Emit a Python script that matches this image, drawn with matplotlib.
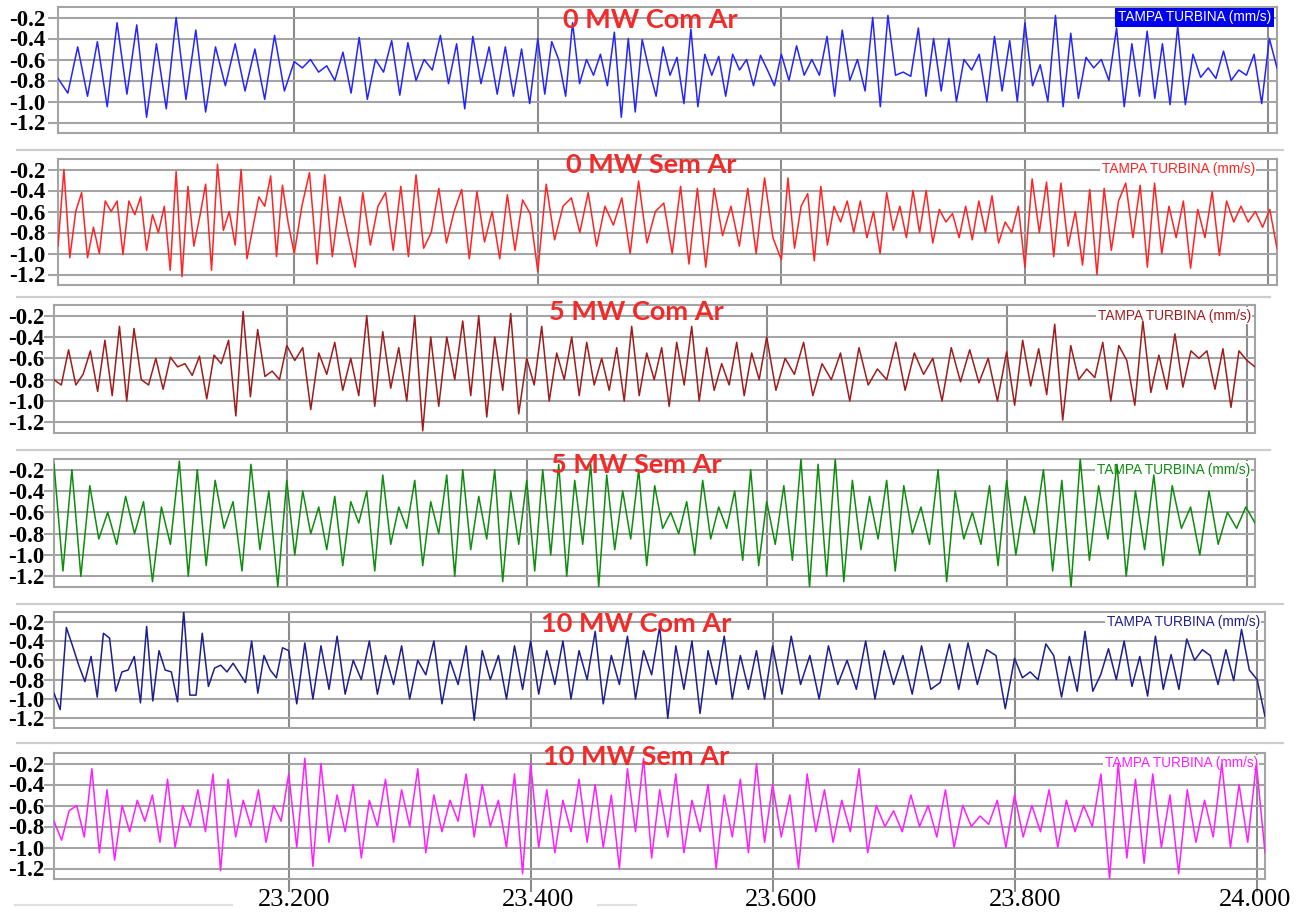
import numpy as np
import matplotlib
matplotlib.use("Agg")
import matplotlib.pyplot as plt
from matplotlib.transforms import blended_transform_factory

# ------------------------------------------------------------------ data
titles = ["0 MW Com Ar", "0 MW Sem Ar", "5 MW Com Ar", "5 MW Sem Ar",
          "10 MW Com Ar", "10 MW Sem Ar"]
channel_label = "TAMPA TURBINA (mm/s)"
y_ticks = [-0.2, -0.4, -0.6, -0.8, -1.0, -1.2]
y_tick_labels = ["-0.2", "-0.4", "-0.6", "-0.8", "-1.0", "-1.2"]
x_ticks = [23.2, 23.4, 23.6, 23.8, 24.0]
x_tick_labels = ["23.200", "23.400", "23.600", "23.800", "24.000"]
# time segments between grid lines (s); each signal list below holds one
# sub-list of read-off peak/trough values per segment
segment_bounds = [23.006, 23.2, 23.4, 23.6, 23.8, 24.007]

sig_0mw_com = [
    [-0.78, -0.92, -0.48, -0.95, -0.43, -1.05, -0.25, -0.93, -0.27, -1.15, -0.45, -1.07,
     -0.2, -0.98, -0.32, -1.1, -0.48, -0.85, -0.45, -0.9, -0.5, -0.98, -0.37, -0.9],
    [-0.62, -0.68, -0.6, -0.72, -0.66, -0.8, -0.53, -0.92, -0.39, -0.98, -0.6, -0.72,
     -0.42, -0.94, -0.44, -0.8, -0.6, -0.7, -0.37, -0.83, -0.45, -1.07, -0.38, -0.83,
     -0.48, -0.93, -0.48, -0.95, -0.5, -1.02],
    [-0.4, -0.93, -0.43, -0.6, -0.95, -0.25, -0.83, -0.6, -0.75, -0.55, -0.85, -0.34,
     -1.15, -0.4, -1.1, -0.41, -0.7, -0.95, -0.48, -0.75, -0.58, -1.02, -0.31, -1.05,
     -0.55, -0.75, -0.57, -0.95, -0.55, -0.7, -0.6, -0.85, -0.56, -0.7, -0.85],
    [-0.55, -0.8, -0.47, -0.75, -0.6, -0.75, -0.38, -0.95, -0.32, -0.8, -0.6, -0.9,
     -0.2, -1.05, -0.18, -0.75, -0.72, -0.76, -0.3, -0.95, -0.4, -0.9, -0.4, -1.0,
     -0.6, -0.7, -0.55, -1.0, -0.38, -0.9, -0.42, -1.0],
    [-0.25, -0.85, -0.65, -1.0, -0.18, -1.05, -0.35, -0.97, -0.58, -0.68, -0.6, -0.8,
     -0.3, -1.05, -0.45, -0.95, -0.33, -0.97, -0.45, -1.03, -0.28, -1.03, -0.55, -0.77,
     -0.68, -0.78, -0.52, -0.8, -0.7, -0.75, -0.55, -1.02, -0.4, -0.68],
]

sig_0mw_sem = [
    [-0.93, -0.2, -1.04, -0.6, -0.42, -1.04, -0.75, -1.0, -0.5, -0.6, -0.5, -1.01,
     -0.5, -0.63, -0.46, -0.97, -0.63, -0.8, -0.55, -1.16, -0.22, -1.22, -0.36, -0.93,
     -0.65, -0.34, -1.16, -0.15, -0.78, -0.6, -0.92, -0.2, -1.05, -0.75, -0.46, -0.55,
     -0.26, -1.03, -0.35, -0.72],
    [-1.0, -0.55, -0.23, -1.1, -0.25, -1.03, -0.46, -0.8, -1.13, -0.42, -0.92, -0.55,
     -0.42, -0.97, -0.36, -1.03, -0.25, -0.95, -0.8, -0.38, -0.9, -0.6, -0.39, -1.05,
     -0.41, -0.89, -0.6, -1.05, -0.44, -0.97, -0.49, -0.62],
    [-1.17, -0.34, -0.87, -0.55, -0.47, -0.8, -0.42, -0.93, -0.55, -0.73, -0.47, -1.0,
     -0.31, -0.9, -0.6, -0.52, -1.0, -0.36, -1.1, -0.38, -1.13, -0.38, -0.83, -0.55,
     -0.93, -0.38, -1.0, -0.28, -0.85],
    [-1.06, -0.28, -0.95, -0.55, -0.43, -1.07, -0.36, -0.92, -0.55, -0.7, -0.5, -0.8,
     -0.5, -0.85, -0.6, -1.0, -0.42, -0.78, -0.55, -0.85, -0.4, -0.8, -0.4, -0.9,
     -0.58, -0.7, -0.62, -0.85, -0.55, -0.87, -0.5, -0.8, -0.45, -0.9, -0.7, -0.8, -0.55],
    [-1.13, -0.29, -0.8, -0.32, -1.03, -0.33, -0.93, -0.6, -1.11, -0.39, -1.2, -0.38,
     -0.97, -0.5, -0.33, -0.85, -0.35, -1.13, -0.33, -1.0, -0.55, -0.85, -0.5, -1.14,
     -0.58, -0.85, -0.41, -1.02, -0.5, -0.7, -0.55, -0.7, -0.6, -0.75, -0.58, -0.95],
]

sig_5mw_com = [
    [-0.8, -0.85, -0.52, -0.85, -0.75, -0.53, -0.91, -0.43, -0.95, -0.3, -1.0, -0.32,
     -0.8, -0.85, -0.6, -0.89, -0.59, -0.68, -0.65, -0.76, -0.58, -0.98, -0.57, -0.65,
     -0.43, -1.14, -0.16, -0.96, -0.33, -0.77, -0.72, -0.8],
    [-0.48, -0.62, -0.5, -1.08, -0.55, -0.75, -0.45, -0.9, -0.6, -0.95, -0.2, -1.05,
     -0.35, -0.88, -0.5, -1.0, -0.2, -1.28, -0.4, -1.05, -0.4, -0.8, -0.25, -0.95,
     -0.2, -1.15, -0.4, -0.9, -0.18, -1.12],
    [-0.6, -0.85, -0.3, -1.0, -0.55, -0.8, -0.4, -0.95, -0.45, -0.85, -0.6, -0.9,
     -0.5, -1.0, -0.3, -0.95, -0.55, -0.8, -0.5, -1.05, -0.45, -0.85, -0.3, -1.0,
     -0.5, -0.9, -0.65, -0.85, -0.45, -0.95, -0.55, -0.8],
    [-0.4, -0.9, -0.6, -0.75, -0.45, -0.95, -0.65, -0.8, -0.55, -1.0, -0.5, -0.85,
     -0.7, -0.8, -0.45, -0.9, -0.55, -0.75, -0.6, -1.0, -0.5, -0.82, -0.52, -0.83,
     -0.6, -1.0],
    [-0.54, -1.04, -0.43, -0.86, -0.51, -0.94, -0.28, -1.18, -0.48, -0.8, -0.7, -0.78,
     -0.45, -1.0, -0.48, -0.62, -1.04, -0.25, -0.92, -0.57, -0.89, -0.37, -0.87, -0.53,
     -0.6, -0.53, -0.89, -0.51, -1.06, -0.53, -0.62, -0.68],
]

sig_5mw_sem = [
    [-0.15, -1.15, -0.2, -1.2, -0.35, -0.85, -0.6, -0.9, -0.45, -0.8, -0.5, -1.25,
     -0.55, -0.9, -0.12, -1.2, -0.2, -1.1, -0.3, -0.75, -0.5, -1.15, -0.15, -0.95,
     -0.4, -1.3],
    [-0.3, -1.0, -0.4, -0.8, -0.55, -0.95, -0.45, -1.1, -0.5, -0.7, -0.4, -1.15,
     -0.25, -0.9, -0.55, -0.75, -0.3, -1.1, -0.5, -0.8, -0.25, -1.2, -0.2, -0.95,
     -0.45, -0.85, -0.2, -1.25, -0.4, -0.9],
    [-0.3, -1.15, -0.2, -1.0, -0.15, -1.2, -0.3, -0.9, -0.15, -1.3, -0.25, -0.95,
     -0.4, -0.85, -0.2, -1.1, -0.35, -0.75, -0.6, -0.8, -0.5, -1.0, -0.3, -0.85,
     -0.55, -0.75, -0.4, -1.05, -0.2, -1.1],
    [-0.5, -0.9, -0.35, -1.05, -0.1, -1.3, -0.15, -1.2, -0.1, -1.25, -0.3, -0.95,
     -0.45, -0.85, -0.3, -1.15, -0.35, -0.8, -0.55, -0.9, -0.2, -1.25, -0.4, -0.85,
     -0.6, -0.9, -0.35, -1.1],
    [-0.3, -1.0, -0.45, -0.8, -0.2, -1.15, -0.3, -1.3, -0.1, -1.05, -0.35, -0.85,
     -0.15, -1.2, -0.4, -0.95, -0.25, -1.1, -0.35, -0.75, -0.55, -1.0, -0.4, -0.9,
     -0.6, -0.75, -0.55, -0.7],
]

sig_10mw_com = [
    [-0.94, -1.11, -0.26, -0.45, -0.65, -0.82, -0.56, -0.98, -0.32, -0.37, -0.92, -0.72,
     -0.7, -0.56, -1.04, -0.25, -1.02, -0.5, -0.7, -0.72, -1.03, -0.09, -0.96, -0.96,
     -0.32, -0.87, -0.68, -0.65, -0.72, -0.63, -0.73, -0.83, -0.4, -0.94, -0.55, -0.7,
     -0.78, -0.47],
    [-0.5, -1.05, -0.42, -1.0, -0.45, -0.9, -0.35, -0.95, -0.6, -0.8, -0.4, -0.95,
     -0.55, -0.85, -0.45, -1.0, -0.6, -0.75, -0.4, -1.05, -0.6, -0.85, -0.45, -1.22,
     -0.5, -0.8, -0.55, -1.0, -0.45, -0.9],
    [-0.4, -0.95, -0.5, -0.85, -0.4, -1.0, -0.5, -0.8, -0.3, -1.05, -0.55, -0.85,
     -0.35, -1.0, -0.5, -0.75, -0.25, -1.2, -0.45, -0.9, -0.4, -1.15, -0.5, -0.85,
     -0.35, -1.0, -0.55, -0.9, -0.5, -1.0],
    [-0.45, -0.95, -0.35, -0.85, -0.55, -1.0, -0.45, -0.85, -0.6, -0.9, -0.4, -1.0,
     -0.5, -0.85, -0.55, -0.95, -0.45, -0.9, -0.83, -0.43, -0.9, -0.42, -0.85, -0.49,
     -0.55, -1.1],
    [-0.58, -0.78, -0.72, -0.8, -0.43, -0.55, -0.98, -0.56, -0.92, -0.3, -0.92, -0.75,
     -0.48, -0.8, -0.4, -0.87, -0.56, -0.97, -0.35, -0.9, -0.54, -0.9, -0.38, -0.6,
     -0.49, -0.55, -0.85, -0.49, -0.81, -0.28, -0.7, -0.8, -1.18],
]

sig_10mw_sem = [
    [-0.75, -0.93, -0.65, -0.6, -0.9, -0.25, -1.05, -0.45, -1.12, -0.6, -0.85, -0.55,
     -0.75, -0.5, -0.95, -0.35, -1.0, -0.6, -0.8, -0.45, -0.85, -0.3, -1.22, -0.35,
     -0.9, -0.55, -0.8, -0.45, -0.95, -0.6, -0.75],
    [-0.3, -1.0, -0.15, -1.18, -0.2, -0.95, -0.5, -0.85, -0.4, -1.1, -0.55, -0.8,
     -0.35, -0.95, -0.45, -0.8, -0.25, -1.05, -0.5, -0.85, -0.55, -0.75, -0.3, -0.9,
     -0.4, -0.8, -0.55, -1.0, -0.3, -1.25],
    [-0.2, -1.0, -0.45, -1.05, -0.55, -0.85, -0.35, -0.95, -0.4, -1.0, -0.5, -1.2,
     -0.25, -0.85, -0.15, -1.1, -0.45, -0.9, -0.3, -1.05, -0.55, -0.85, -0.4, -1.2,
     -0.5, -0.9, -0.35, -1.05, -0.2, -0.95],
    [-0.4, -0.9, -0.5, -1.2, -0.3, -0.85, -0.45, -0.95, -0.55, -0.85, -0.25, -1.05,
     -0.6, -0.8, -0.65, -0.85, -0.5, -0.8, -0.6, -0.9, -0.45, -1.0, -0.6, -0.8,
     -0.7, -0.78, -0.55, -1.0],
    [-0.5, -0.9, -0.6, -0.85, -0.45, -1.0, -0.55, -0.85, -0.6, -0.8, -0.3, -1.3,
     -0.2, -1.1, -0.35, -1.15, -0.3, -1.0, -0.5, -1.25, -0.45, -0.95, -0.55, -0.9,
     -0.2, -1.0, -0.4, -0.95, -0.2, -1.05],
]

signals = [sig_0mw_com, sig_0mw_sem, sig_5mw_com, sig_5mw_sem, sig_10mw_com, sig_10mw_sem]

# ------------------------------------------------------------------ style / layout
W, H = 1299, 915
line_colors = ["#2424FF", "#FF2424", "#A01C1C", "#0E8C0E", "#1E1E8E", "#FF1EFF"]
# panel boxes in pixels: left, top, right, bottom
boxes = [(58, 7, 1277, 133), (58, 159, 1277, 285), (54, 305, 1255, 433),
         (54, 459, 1255, 587), (54, 612, 1265, 728), (54, 753, 1265, 879)]
title_pos = [(650, 20), (651, 165), (636, 312), (636, 465), (636, 624), (636, 757)]
label_right = [1271, 1255, 1251, 1250, 1260, 1258]
separators = [(17, 1283, 150), (17, 1270, 297), (17, 1270, 450), (17, 1283, 604), (17, 1283, 743)]
grid_col = "#A4A4A4"
vgrid_col = "#8C8C8C"

fig = plt.figure(figsize=(W / 100, H / 100), dpi=100)
fig.patch.set_facecolor("white")

axes = []
for i, (l, t, r, b) in enumerate(boxes):
    ax = fig.add_axes([l / W, 1 - b / H, (r - l) / W, (b - t) / H])
    axes.append(ax)
    ax.set_xlim(segment_bounds[0], segment_bounds[-1])
    ax.set_ylim(-1.3, -0.1)
    ax.set_axisbelow(True)

    xs, ys = [], []
    nseg = len(segment_bounds) - 1
    for k in range(nseg):
        a, bnd = segment_bounds[k], segment_bounds[k + 1]
        vals = signals[i][k]
        n = len(vals)
        if k < nseg - 1:
            xk = a + np.arange(n) * (bnd - a) / n
        else:
            xk = np.linspace(a, bnd, n)
        xs.extend(xk)
        ys.extend(vals)
    ax.plot(xs, ys, color=line_colors[i], lw=1.1, zorder=4, clip_on=True,
            solid_joinstyle="round")

    ax.set_yticks(y_ticks)
    ax.set_yticklabels(y_tick_labels, fontfamily="Liberation Serif",
                       fontweight="bold", fontsize=16.5)
    ax.set_xticks(x_ticks)
    ax.grid(axis="y", color=grid_col, lw=1.5)
    ax.grid(axis="x", color=vgrid_col, lw=1.5)
    pad_px = l - 48 - 7
    ax.tick_params(axis="y", length=7, width=1.5, color=grid_col,
                   pad=max(pad_px, 0) * 0.72, labelcolor="black")
    if i < len(boxes) - 1:
        ax.tick_params(axis="x", length=0, labelbottom=False)
    else:
        ax.tick_params(axis="x", length=9, width=1.5, color=vgrid_col, labelbottom=False)
    for s in ax.spines.values():
        s.set_color(grid_col)
        s.set_linewidth(1.5)

    # channel label
    tr = blended_transform_factory(ax.transAxes, ax.transData)
    lx = (label_right[i] - l) / (r - l)
    if i == 0:
        ax.text(lx, -0.2, channel_label, transform=tr, ha="right", va="center",
                fontsize=9.8, fontfamily="Liberation Sans", color="white", zorder=3,
                bbox=dict(facecolor="#0000F0", edgecolor="none", pad=2.0))
    else:
        ax.text(lx, -0.2, channel_label, transform=tr, ha="right", va="center",
                fontsize=9.8, fontfamily="Liberation Sans", color=line_colors[i], zorder=3,
                bbox=dict(facecolor="white", edgecolor="none", pad=1.0))

    tx, ty = title_pos[i]
    fig.text(tx / W, 1 - ty / H, titles[i], ha="center", va="center",
             fontsize=19.5, fontweight="bold", fontfamily="Lato", color="#F22A2A", zorder=10)

# separators between panels
for x0, x1, yy in separators:
    fig.add_artist(plt.Line2D([x0 / W, x1 / W], [1 - yy / H, 1 - yy / H],
                              color="#CDCDCD", lw=1.6, transform=fig.transFigure))
for x0, x1 in [(15, 232), (598, 636)]:
    fig.add_artist(plt.Line2D([x0 / W, x1 / W], [1 - 905 / H, 1 - 905 / H],
                              color="#E0E0E0", lw=1.6, transform=fig.transFigure))

# bottom time labels (scale of the top panel, last label pulled in from the edge)
ax_ref = axes[0]
for v, lab in zip(x_ticks, x_tick_labels):
    xd = ax_ref.transData.transform((v, -0.5))[0]
    if v == x_ticks[-1]:
        xd -= 13
    fig.text(xd / W, 1 - 900 / H, lab, ha="center", va="center",
             fontsize=19, fontfamily="Liberation Serif", color="black")

fig.savefig("out.png", dpi=100, facecolor="white")
